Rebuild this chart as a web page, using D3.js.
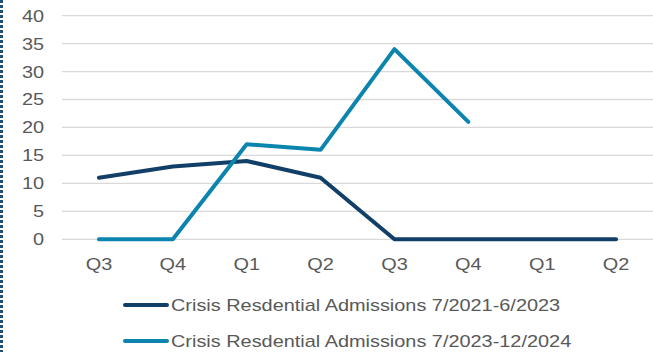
<!DOCTYPE html>
<html>
<head>
<meta charset="utf-8">
<script src="https://cdn.jsdelivr.net/npm/d3@7/dist/d3.min.js"></script>
<style>
  html, body { margin: 0; padding: 0; background: #fff; }
  svg { display: block; }
</style>
</head>
<body>
<svg id="chart" width="653" height="352"></svg>
<script>
// Quarter labels along the x axis
const quarters = ["Q3", "Q4", "Q1", "Q2", "Q3", "Q4", "Q1", "Q2"];
// Admissions per quarter, 7/2021 - 6/2023
const admissions2021 = [11, 13, 14, 11, 0, 0, 0, 0];
// Admissions per quarter, 7/2023 - 12/2024 (no data after Q4)
const admissions2023 = [0, 0, 17, 16, 34, 21, null, null];
const seriesNames = [
  "Crisis Resdential Admissions 7/2021-6/2023",
  "Crisis Resdential Admissions 7/2023-12/2024"
];
const yTicks = [0, 5, 10, 15, 20, 25, 30, 35, 40];

const colors = ["#123f68", "#0b84ae"];
const textColor = "#595959";
const font = "Arial, 'Liberation Sans', sans-serif";
const stretch = 1.17; // text is drawn slightly wide

const svg = d3.select("#chart");

// Places a horizontally widened text label at (px, py)
function label(g, px, py, str, anchor) {
  return g.append("text")
    .attr("transform", `translate(${px},${py}) scale(${stretch},1)`)
    .attr("text-anchor", anchor)
    .attr("fill", textColor)
    .style("font", `17px ${font}`)
    .text(str);
}

// Dotted frame edge on the left
svg.append("line")
  .attr("x1", 1.5).attr("x2", 1.5)
  .attr("y1", 0).attr("y2", 352)
  .attr("stroke", "#1f4e79")
  .attr("stroke-width", 3)
  .attr("stroke-dasharray", "3,2");

const plot = { left: 62, right: 653, top: 15.6, bottom: 239.3 };

const x = d3.scaleBand()
  .domain(d3.range(quarters.length))
  .range([plot.left, plot.right]);

const y = d3.scaleLinear()
  .domain([0, 40])
  .range([plot.bottom, plot.top]);

// Horizontal gridlines
svg.append("g")
  .selectAll("line")
  .data(yTicks)
  .join("line")
  .attr("x1", plot.left).attr("x2", plot.right)
  .attr("y1", d => y(d)).attr("y2", d => y(d))
  .attr("stroke", "#d9d9d9")
  .attr("stroke-width", 1.3);

// Y axis labels
const yg = svg.append("g");
yTicks.forEach(t => label(yg, 44, y(t) + 6, t, "end"));

// X axis labels
const xg = svg.append("g");
quarters.forEach((q, i) => label(xg, x(i) + x.bandwidth() / 2, 270, q, "middle"));

// Series lines
const line = d3.line()
  .defined(d => d != null)
  .x((d, i) => x(i) + x.bandwidth() / 2)
  .y(d => y(d));

[admissions2021, admissions2023].forEach((vals, k) => {
  svg.append("path")
    .datum(vals)
    .attr("fill", "none")
    .attr("stroke", colors[k])
    .attr("stroke-width", 4)
    .attr("stroke-linejoin", "round")
    .attr("stroke-linecap", "round")
    .attr("d", line);
});

// Legend
const legendY = [305, 341];
const lg = svg.append("g");
seriesNames.forEach((name, k) => {
  lg.append("line")
    .attr("x1", 125).attr("x2", 167)
    .attr("y1", legendY[k]).attr("y2", legendY[k])
    .attr("stroke", colors[k])
    .attr("stroke-width", 4)
    .attr("stroke-linecap", "round");
  label(lg, 171, legendY[k] + 6, name, "start");
});
</script>
</body>
</html>
